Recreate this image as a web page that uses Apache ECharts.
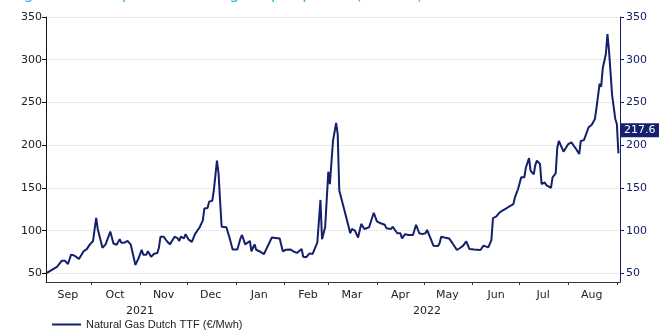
<!DOCTYPE html>
<html>
<head>
<meta charset="utf-8">
<script src="https://cdn.jsdelivr.net/npm/echarts@6/dist/echarts.min.js"></script>
<style>
  html, body { margin: 0; padding: 0; background: #fff; }
  #chartmain { width: 659px; height: 332px; }
</style>
</head>
<body>
<div id="chartmain"></div>
<script>
// TTF daily prices
var dates = [
  '2021-09-02','2021-09-09','2021-09-12','2021-09-14','2021-09-16','2021-09-18','2021-09-20','2021-09-23','2021-09-24','2021-09-26',
  '2021-09-28','2021-09-30','2021-10-02','2021-10-04','2021-10-05','2021-10-08','2021-10-10','2021-10-11','2021-10-13','2021-10-15',
  '2021-10-17','2021-10-19','2021-10-20','2021-10-22','2021-10-24','2021-10-26','2021-10-29','2021-10-31','2021-11-02','2021-11-03',
  '2021-11-05','2021-11-06','2021-11-08','2021-11-09','2021-11-10','2021-11-12','2021-11-13','2021-11-14','2021-11-16','2021-11-18',
  '2021-11-20','2021-11-23','2021-11-25','2021-11-26','2021-11-27','2021-11-29','2021-11-30','2021-12-02','2021-12-04','2021-12-06',
  '2021-12-09','2021-12-11','2021-12-12','2021-12-14','2021-12-15','2021-12-17','2021-12-18','2021-12-20','2021-12-21','2021-12-22',
  '2021-12-23','2021-12-26','2021-12-28','2021-12-30','2022-01-02','2022-01-04','2022-01-05','2022-01-07','2022-01-08','2022-01-10',
  '2022-01-11','2022-01-13','2022-01-14','2022-01-15','2022-01-16','2022-01-17','2022-01-19','2022-01-21','2022-01-22','2022-01-24',
  '2022-01-25','2022-01-29','2022-01-31','2022-02-02','2022-02-03','2022-02-05','2022-02-07','2022-02-09','2022-02-12','2022-02-13',
  '2022-02-15','2022-02-17','2022-02-19','2022-02-20','2022-02-22','2022-02-24','2022-02-25','2022-02-27','2022-03-01','2022-03-02',
  '2022-03-04','2022-03-06','2022-03-07','2022-03-08','2022-03-10','2022-03-11','2022-03-13','2022-03-14','2022-03-15','2022-03-16',
  '2022-03-18','2022-03-20','2022-03-21','2022-03-22','2022-03-24','2022-03-25','2022-03-27','2022-03-30','2022-04-01','2022-04-03',
  '2022-04-06','2022-04-07','2022-04-08','2022-04-10','2022-04-11','2022-04-12','2022-04-14','2022-04-16','2022-04-17','2022-04-19',
  '2022-04-21','2022-04-24','2022-04-25','2022-04-26','2022-04-28','2022-04-30','2022-05-02','2022-05-03','2022-05-05','2022-05-07',
  '2022-05-10','2022-05-11','2022-05-12','2022-05-14','2022-05-15','2022-05-17','2022-05-19','2022-05-20','2022-05-22','2022-05-24',
  '2022-05-26','2022-05-28','2022-05-30','2022-06-02','2022-06-06','2022-06-08','2022-06-11','2022-06-13','2022-06-14','2022-06-16',
  '2022-06-18','2022-06-20','2022-06-22','2022-06-24','2022-06-27','2022-06-28','2022-06-30','2022-07-01','2022-07-02','2022-07-04',
  '2022-07-05','2022-07-07','2022-07-08','2022-07-10','2022-07-11','2022-07-12','2022-07-14','2022-07-15','2022-07-17','2022-07-18',
  '2022-07-19','2022-07-21','2022-07-22','2022-07-24','2022-07-25','2022-07-26','2022-07-29','2022-08-01','2022-08-03','2022-08-04',
  '2022-08-06','2022-08-08','2022-08-09','2022-08-11','2022-08-12','2022-08-14','2022-08-16','2022-08-17','2022-08-18','2022-08-19',
  '2022-08-21','2022-08-22','2022-08-23','2022-08-25','2022-08-26','2022-08-27','2022-08-29','2022-08-31','2022-09-01','2022-09-02'
];
var ttfValues = [
  50, 57.8, 64.8, 65, 61, 72, 71, 67, 68, 76,
  78.5, 84, 88, 115, 102, 80, 84, 85, 99, 85,
  83.6, 90, 86, 86, 88, 84, 60, 67.6, 77.7, 72,
  72, 76, 69.5, 69.5, 73, 74, 80, 93, 93, 88,
  84, 93, 91, 88, 93, 91, 96, 89.5, 87, 96,
  104, 112, 126, 126.6, 134, 135, 147, 182, 167.6, 135,
  104.7, 104, 92, 78, 78, 91, 95, 84, 84, 88,
  76, 84, 77.7, 78, 76, 75, 72.7, 80.5, 81, 92,
  91, 91, 76, 77.7, 80, 78, 75.5, 74, 78.6, 69.6,
  69, 73.5, 72.8, 71, 86, 136, 90, 104, 169, 154.5,
  205, 226, 213, 147, 133, 131, 111.7, 114, 97, 102,
  100, 92, 94, 108, 102, 101, 104, 121, 111, 109,
  107, 103, 104.7, 102, 104.7, 105, 97, 97, 91, 96,
  95, 95, 93, 107, 97, 96, 97, 101, 92, 82.5,
  82, 85.6, 93, 92, 93, 91, 86, 85, 77.4, 79.8,
  82.5, 87.6, 78.6, 78, 77.4, 82.5, 80.5, 89, 114.8, 116.4,
  121, 123.4, 125.4, 128, 131, 139, 148.8, 147.6, 162.4, 162.4,
  174, 185, 170, 166, 176.8, 182, 178, 154.6, 156.5, 153.4,
  155.4, 150, 162.4, 167, 196.7, 205, 192.4, 201.4, 203.4, 201.4,
  195.6, 189.7, 205, 206, 205, 221, 224, 224, 230.7, 243.5,
  272, 268.5, 290, 306.7, 330, 310.6, 258, 230.7, 224.8, 190.5
];
var lastValue = 217.6;
var seriesName = 'Natural Gas Dutch TTF (€/Mwh)';

// axis ticks / labels
var yTicks = [50, 100, 150, 200, 250, 300, 350];
var monthStarts = ['2021-10-01','2021-11-01','2021-12-01','2022-01-01','2022-02-01','2022-03-01',
  '2022-04-01','2022-05-01','2022-06-01','2022-07-01','2022-08-01','2022-09-01'];
var monthMids = ['2021-09-16','2021-10-16','2021-11-16','2021-12-16','2022-01-16','2022-02-16',
  '2022-03-16','2022-04-16','2022-05-16','2022-06-16','2022-07-16','2022-08-16'];
var monthNames = ['Jan','Feb','Mar','Apr','May','Jun','Jul','Aug','Sep','Oct','Nov','Dec'];
var yearMids = ['2021-11-01','2022-05-03'];

function ts(s) { var p = s.split('-'); return new Date(+p[0], +p[1] - 1, +p[2]).getTime(); }

var navy = '#14206b';
var xMin = ts('2021-09-02'), xMax = ts('2022-09-03');
var lineData = dates.map(function (d, i) { return [ts(d), ttfValues[i]]; });

var chartmain = echarts.init(document.getElementById('chartmain'));
var option = {
  animation: false,
  title: {
    text: 'Figure 1: European natural gas spot prices (€/MWh)',
    left: 6,
    top: -18,
    textStyle: { color: '#29b5ea', fontSize: 16, fontWeight: 'normal', fontFamily: 'DejaVu Sans' }
  },
  grid: { left: 46, right: 39, top: 17, bottom: 50 },
  legend: {
    left: 47,
    top: 314,
    itemWidth: 29,
    itemHeight: 2,
    icon: 'rect',
    textStyle: { fontFamily: 'Liberation Sans', fontSize: 11, color: '#222' },
    data: [seriesName]
  },
  xAxis: [
    {
      type: 'value',
      min: xMin,
      max: xMax,
      axisLine: { show: true, lineStyle: { color: '#333', width: 1 } },
      axisTick: { show: true, length: 3, customValues: monthStarts.map(ts), lineStyle: { color: '#333' } },
      axisLabel: {
        customValues: monthMids.map(ts),
        color: '#222', fontSize: 11, fontFamily: 'DejaVu Sans', margin: 8,
        formatter: function (v) { return monthNames[new Date(v).getMonth()]; }
      },
      splitLine: { show: false }
    },
    {
      type: 'value',
      position: 'bottom',
      offset: 16,
      min: xMin,
      max: xMax,
      axisLine: { show: false },
      axisTick: { show: false },
      axisLabel: {
        customValues: yearMids.map(ts),
        color: '#222', fontSize: 11, fontFamily: 'DejaVu Sans', margin: 8,
        formatter: function (v) { return String(new Date(v).getFullYear()); }
      },
      splitLine: { show: false }
    }
  ],
  yAxis: [
    {
      type: 'value',
      position: 'left',
      min: 40,
      max: 350,
      axisLine: { show: true, lineStyle: { color: '#111' } },
      axisTick: { show: true, length: 4, customValues: yTicks, lineStyle: { color: '#111' } },
      axisLabel: { customValues: yTicks, color: '#222', fontSize: 11, fontFamily: 'DejaVu Sans', margin: 4 },
      splitLine: { show: true, lineStyle: { color: '#d8d8d8', type: 'dotted' } }
    },
    {
      type: 'value',
      position: 'right',
      min: 40,
      max: 350,
      axisLine: { show: true, lineStyle: { color: navy } },
      axisTick: { show: true, length: 4, customValues: yTicks, lineStyle: { color: navy } },
      axisLabel: { customValues: yTicks, color: navy, fontSize: 11, fontFamily: 'DejaVu Sans', margin: 6 },
      splitLine: { show: false }
    }
  ],
  series: [
    {
      name: seriesName,
      type: 'line',
      xAxisIndex: 0,
      yAxisIndex: 0,
      data: lineData,
      showSymbol: false,
      symbol: 'none',
      lineStyle: { color: navy, width: 2 },
      itemStyle: { color: navy },
      markLine: {
        silent: true,
        symbol: 'none',
        lineStyle: { color: 'rgba(0,0,0,0)', width: 0 },
        label: {
          show: true,
          position: 'end',
          distance: 1,
          backgroundColor: navy,
          color: '#fff',
          fontSize: 11,
          fontFamily: 'DejaVu Sans',
          padding: [2, 4, 1, 3],
          formatter: function () { return String(lastValue); }
        },
        data: [{ yAxis: lastValue }]
      }
    }
  ]
};
chartmain.setOption(option);
</script>
</body>
</html>
